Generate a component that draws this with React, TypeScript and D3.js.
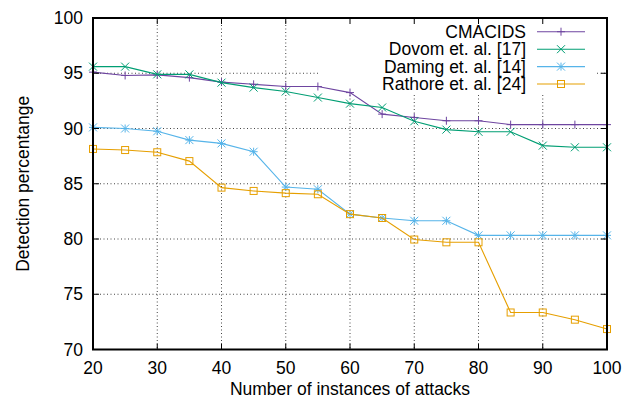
import React from "react";
import * as d3 from "d3";

const xValues = [20, 25, 30, 35, 40, 45, 50, 55, 60, 65, 70, 75, 80, 85, 90, 95, 100];
const cmacids = [95.1, 94.8, 94.85, 94.6, 94.2, 94.0, 93.8, 93.8, 93.25, 91.3, 91.0, 90.7, 90.7, 90.35, 90.35, 90.35, 90.35];
const dovom = [95.6, 95.6, 94.9, 94.9, 94.15, 93.7, 93.35, 92.8, 92.25, 91.9, 90.65, 89.9, 89.7, 89.7, 88.45, 88.3, 88.3];
const daming = [90.1, 90.0, 89.75, 88.95, 88.65, 87.9, 84.7, 84.5, 82.25, 81.9, 81.65, 81.65, 80.33, 80.33, 80.33, 80.33, 80.33];
const rathore = [88.15, 88.05, 87.85, 87.05, 84.65, 84.35, 84.15, 84.05, 82.25, 81.9, 79.95, 79.7, 79.7, 73.35, 73.35, 72.7, 71.85];

const seriesNames = ["CMACIDS", "Dovom et. al. [17]", "Daming et. al. [14]", "Rathore et. al. [24]"];
const seriesColors = ["#6e45a0", "#009e73", "#56b4e9", "#e69f00"];
const seriesMarkers = ["plus", "cross", "star", "square"];
const seriesData = [cmacids, dovom, daming, rathore];

const xTicks = [20, 30, 40, 50, 60, 70, 80, 90, 100];
const yTicks = [70, 75, 80, 85, 90, 95, 100];

const W = 632, H = 402;
const L = 93, R = 607, T = 18, B = 349.5;
const FONT = "'Liberation Sans', Arial, Helvetica, sans-serif";
const FS = 17.5;

function Marker({ type, x, y, color }: { type: string; x: number; y: number; color: string }) {
  const s = 4;
  if (type === "plus") {
    return <path d={`M${x - s},${y}H${x + s}M${x},${y - s}V${y + s}`} stroke={color} strokeWidth={1} fill="none" />;
  }
  if (type === "cross") {
    return <path d={`M${x - s},${y - s}L${x + s},${y + s}M${x - s},${y + s}L${x + s},${y - s}`} stroke={color} strokeWidth={1} fill="none" />;
  }
  if (type === "star") {
    return (
      <path
        d={`M${x - s},${y}H${x + s}M${x},${y - s}V${y + s}M${x - s},${y - s}L${x + s},${y + s}M${x - s},${y + s}L${x + s},${y - s}`}
        stroke={color}
        strokeWidth={1}
        fill="none"
      />
    );
  }
  return <rect x={x - 3.5} y={y - 3.5} width={7} height={7} stroke={color} strokeWidth={1} fill="none" />;
}

export default function App() {
  const x = d3.scaleLinear().domain([20, 100]).range([L, R]);
  const y = d3.scaleLinear().domain([70, 100]).range([B, T]);
  const line = d3
    .line<number>()
    .x((_, i) => x(xValues[i]))
    .y((d) => y(d));

  const legendRight = 526;
  const legendRowY = [31.7, 49.2, 66.6, 84];

  return (
    <svg width={W} height={H} style={{ position: "absolute", left: 0, top: 0 }} fontFamily={FONT}>
      <rect x={0} y={0} width={W} height={H} fill="#fff" />
      {/* grid */}
      <g stroke="#444" strokeWidth={1} strokeDasharray="1,2.5">
        {xTicks.slice(1, -1).map((t) => (
          <line key={"gx" + t} x1={x(t)} x2={x(t)} y1={T} y2={B} />
        ))}
        {yTicks.slice(1, -1).map((t) => (
          <line key={"gy" + t} x1={L} x2={R} y1={y(t)} y2={y(t)} />
        ))}
      </g>
      {/* opaque legend area */}
      <rect x={318} y={T + 1} width={279} height={74} fill="#fff" />
      {/* series */}
      {seriesData.map((vals, si) => (
        <g key={"s" + si}>
          <path d={line(vals) || ""} fill="none" stroke={seriesColors[si]} strokeWidth={1.1} />
          {vals.map((v, i) => (
            <Marker key={i} type={seriesMarkers[si]} x={x(xValues[i])} y={y(v)} color={seriesColors[si]} />
          ))}
        </g>
      ))}
      {/* border */}
      <rect x={L} y={T} width={R - L} height={B - T} fill="none" stroke="#000" strokeWidth={2} />
      {/* ticks */}
      <g stroke="#000" strokeWidth={1}>
        {xTicks.map((t) => (
          <g key={"tx" + t}>
            <line x1={x(t)} x2={x(t)} y1={B} y2={B - 6} />
            <line x1={x(t)} x2={x(t)} y1={T} y2={T + 6} />
          </g>
        ))}
        {yTicks.map((t) => (
          <g key={"ty" + t}>
            <line x1={L} x2={L + 6} y1={y(t)} y2={y(t)} />
            <line x1={R} x2={R - 6} y1={y(t)} y2={y(t)} />
          </g>
        ))}
      </g>
      {/* tick labels */}
      <g fontSize={FS} fill="#000">
        {xTicks.map((t) => (
          <text key={"lx" + t} x={x(t)} y={374} textAnchor="middle">
            {t}
          </text>
        ))}
        {yTicks.map((t) => (
          <text key={"ly" + t} x={83} y={y(t) + 6} textAnchor="end">
            {t}
          </text>
        ))}
      </g>
      <text x={(L + R) / 2} y={395} textAnchor="middle" fontSize={FS}>
        Number of instances of attacks
      </text>
      <text transform={`translate(29,${(T + B) / 2}) rotate(-90)`} textAnchor="middle" fontSize={FS}>
        Detection percentange
      </text>
      {/* legend */}
      {seriesNames.map((n, i) => (
        <g key={"lg" + i}>
          <text x={legendRight} y={legendRowY[i] + 6} textAnchor="end" fontSize={FS}>
            {n}
          </text>
          <line x1={537} x2={585} y1={legendRowY[i]} y2={legendRowY[i]} stroke={seriesColors[i]} strokeWidth={1.1} />
          <Marker type={seriesMarkers[i]} x={561} y={legendRowY[i]} color={seriesColors[i]} />
        </g>
      ))}
    </svg>
  );
}
